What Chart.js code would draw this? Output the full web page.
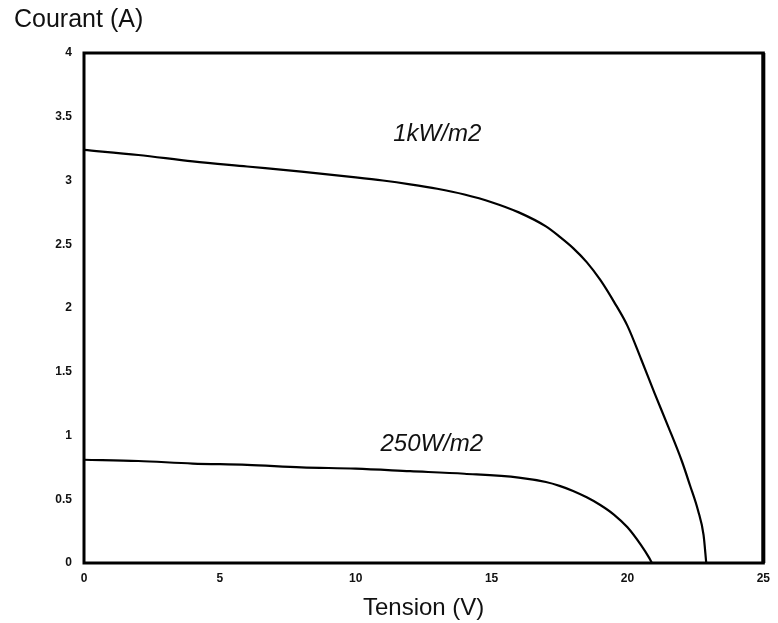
<!DOCTYPE html>
<html>
<head>
<meta charset="utf-8">
<script src="https://cdn.jsdelivr.net/npm/chart.js@4.4.0/dist/chart.umd.min.js"></script>
<style>
html,body{margin:0;padding:0;background:#fff;}
#wrap{width:778px;height:623px;position:relative;}
</style>
</head>
<body>
<div id="wrap"><canvas id="c" width="778" height="623"></canvas></div>
<script>
// Data
const tension1k  = [0, 2, 4, 6, 8, 10, 11, 12, 13, 14, 15, 16, 17, 17.5, 18, 18.5, 19, 19.5, 20, 20.5, 21, 21.5, 22, 22.3, 22.6, 22.8, 22.9];
const courant1k  = [3.24, 3.20, 3.15, 3.11, 3.07, 3.025, 3.00, 2.97, 2.935, 2.89, 2.83, 2.75, 2.64, 2.56, 2.47, 2.36, 2.22, 2.05, 1.86, 1.60, 1.33, 1.07, 0.80, 0.61, 0.41, 0.22, 0];
const tension250 = [0, 2, 4, 6, 8, 10, 12, 14, 16, 17, 17.5, 18, 18.5, 19, 19.5, 20, 20.5, 20.8, 20.9];
const courant250 = [0.81, 0.80, 0.78, 0.77, 0.75, 0.74, 0.72, 0.70, 0.67, 0.635, 0.605, 0.565, 0.515, 0.455, 0.38, 0.28, 0.14, 0.04, 0];
const xTicks = [0, 5, 10, 15, 20, 25];
const yTicks = [0, 0.5, 1, 1.5, 2, 2.5, 3, 3.5, 4];
const seriesLabels = ['1kW/m2', '250W/m2'];
const labelPos = [[13.0, 3.36], [12.8, 0.93]];
const xTitle = 'Tension (V)';
const yTitle = 'Courant (A)';

const toPts = (xs, ys) => xs.map((x, i) => ({x: x, y: ys[i]}));

const decor = {
  id: 'decor',
  afterDraw(chart) {
    const ctx = chart.ctx, a = chart.chartArea;
    const xs = chart.scales.x, ys = chart.scales.y;
    ctx.save();
    ctx.strokeStyle = '#000';
    ctx.lineWidth = 3;
    ctx.strokeRect(a.left, a.top, a.right - a.left, a.bottom - a.top);
    ctx.lineWidth = 4;
    ctx.beginPath(); ctx.moveTo(a.right, a.top); ctx.lineTo(a.right, a.bottom); ctx.stroke();
    ctx.fillStyle = '#111';
    ctx.font = '25px "Liberation Sans", Arial, sans-serif';
    ctx.textAlign = 'left'; ctx.textBaseline = 'middle';
    ctx.fillText(yTitle, 14, 20);
    ctx.font = 'italic 24px "Liberation Sans", Arial, sans-serif';
    ctx.textAlign = 'center';
    seriesLabels.forEach((t, i) => {
      ctx.fillText(t, xs.getPixelForValue(labelPos[i][0]), ys.getPixelForValue(labelPos[i][1]));
    });
    ctx.restore();
  }
};

new Chart(document.getElementById('c'), {
  type: 'line',
  data: {
    datasets: [
      {label: seriesLabels[0], data: toPts(tension1k, courant1k), borderColor: '#000', borderWidth: 2.2, pointRadius: 0, cubicInterpolationMode: 'monotone', fill: false},
      {label: seriesLabels[1], data: toPts(tension250, courant250), borderColor: '#000', borderWidth: 2.2, pointRadius: 0, cubicInterpolationMode: 'monotone', fill: false}
    ]
  },
  options: {
    responsive: false,
    animation: false,
    layout: {padding: {top: 53, right: 12, left: 0, bottom: 0}},
    plugins: {legend: {display: false}, tooltip: {enabled: false}, title: {display: false}},
    scales: {
      x: {
        type: 'linear', min: 0, max: 25,
        grid: {display: false, drawTicks: false},
        border: {display: false},
        afterBuildTicks: s => { s.ticks = xTicks.map(v => ({value: v})); },
        ticks: {color: '#111', font: {size: 12, weight: 'bold', family: '"Liberation Sans", Arial'}, padding: 8, maxRotation: 0, callback: v => String(v)},
        title: {display: true, text: xTitle, color: '#111', font: {size: 24, family: '"Liberation Sans", Arial'}, padding: {top: 0, bottom: 0}},
        afterFit: s => { s.height = 60; }
      },
      y: {
        type: 'linear', min: 0, max: 4,
        grid: {display: false, drawTicks: false},
        border: {display: false},
        afterBuildTicks: s => { s.ticks = yTicks.map(v => ({value: v})); },
        ticks: {color: '#111', font: {size: 12, weight: 'bold', family: '"Liberation Sans", Arial'}, padding: 12, callback: v => String(v)},
        afterFit: s => { s.width = 84; }
      }
    }
  },
  plugins: [decor]
});
</script>
</body>
</html>
